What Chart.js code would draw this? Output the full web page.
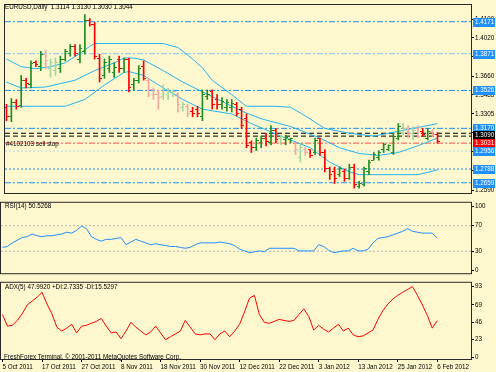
<!DOCTYPE html>
<html><head><meta charset="utf-8">
<script src="https://cdn.jsdelivr.net/npm/chart.js@4/dist/chart.umd.min.js"></script>
<style>
html,body{margin:0;padding:0;background:#FFF8CF;}
#wrap{position:relative;width:496px;height:372px;overflow:hidden;background:#FFF8CF;}
canvas{position:absolute;left:0;}
.t{position:absolute;font:6.3px "Liberation Sans",Arial,sans-serif;color:#000;white-space:pre;line-height:7px;}
</style></head><body>
<div id="wrap">
<canvas id="c1" width="496" height="198" style="top:0"></canvas>
<canvas id="c2" width="496" height="80" style="top:198px"></canvas>
<canvas id="c3" width="496" height="94" style="top:278px"></canvas>
<div class="t" style="left:5px;top:3px">EURUSD,Daily  1.3114 1.3130 1.3030 1.3044</div>
<div class="t" style="left:6px;top:140px">#4102103 sell stop</div>
<div class="t" style="left:5px;top:202px">RSI(14) 50.5268</div>
<div class="t" style="left:5px;top:283px">ADX(5) 47.9920 +DI:2.7335 -DI:15.5297</div>
<div class="t" style="left:4px;top:353px">FreshForex Terminal, © 2001-2011 MetaQuotes Software Corp.</div>
</div>
<script>
// ---------- data ----------
const dateLabels = ['5 Oct 2011','17 Oct 2011','27 Oct 2011','8 Nov 2011','18 Nov 2011','30 Nov 2011','12 Dec 2011','22 Dec 2011','3 Jan 2012','13 Jan 2012','25 Jan 2012','6 Feb 2012'];
const dateBars = [0,8,16,24,32,40,48,56,64,72,80,88];

const open  = [1.3368,1.3278,1.3414,1.3386,1.3622,1.3577,1.3785,1.3749,1.3866,1.3730,1.3712,1.3730,1.3821,1.3875,1.3939,1.3821,1.3893,1.4183,1.4147,1.3830,1.3667,1.3730,1.3694,1.3821,1.3730,1.3821,1.3577,1.3622,1.3749,1.3622,1.3531,1.3486,1.3468,1.3486,1.3504,1.3486,1.3368,1.3377,1.3332,1.3350,1.3278,1.3468,1.3513,1.3441,1.3396,1.3368,1.3368,1.3396,1.3350,1.3260,1.3034,1.2988,1.3034,1.3079,1.3034,1.3151,1.3079,1.3061,1.3061,1.3034,1.2898,1.2970,1.2970,1.2943,1.3079,1.2943,1.2789,1.2762,1.2735,1.2762,1.2699,1.2807,1.2626,1.2644,1.2762,1.2871,1.2898,1.2970,1.2970,1.2943,1.3079,1.3124,1.3169,1.3124,1.3169,1.3142,1.3079,1.3142,1.3114];
const high  = [1.3396,1.3450,1.3441,1.3667,1.3640,1.3803,1.3803,1.3893,1.3902,1.3821,1.3830,1.3848,1.3911,1.3957,1.3957,1.3957,1.4237,1.4201,1.4165,1.3866,1.3821,1.3848,1.3785,1.3848,1.3830,1.3830,1.3640,1.3758,1.3803,1.3640,1.3549,1.3531,1.3577,1.3549,1.3531,1.3504,1.3414,1.3396,1.3368,1.3377,1.3531,1.3531,1.3531,1.3486,1.3459,1.3441,1.3441,1.3414,1.3368,1.3305,1.3052,1.3079,1.3097,1.3124,1.3196,1.3169,1.3106,1.3106,1.3079,1.3034,1.3015,1.2988,1.2970,1.3079,1.3079,1.2970,1.2807,1.2807,1.2807,1.2789,1.2834,1.2834,1.2672,1.2807,1.2871,1.2943,1.2961,1.3034,1.3015,1.3124,1.3215,1.3215,1.3196,1.3187,1.3196,1.3169,1.3169,1.3160,1.3130];
const low   = [1.3242,1.3233,1.3350,1.3368,1.3549,1.3549,1.3749,1.3712,1.3730,1.3649,1.3667,1.3694,1.3803,1.3848,1.3848,1.3785,1.3866,1.4129,1.3821,1.3604,1.3640,1.3694,1.3649,1.3694,1.3694,1.3513,1.3531,1.3595,1.3622,1.3468,1.3441,1.3350,1.3441,1.3441,1.3468,1.3323,1.3332,1.3278,1.3278,1.3278,1.3242,1.3441,1.3350,1.3350,1.3350,1.3332,1.3323,1.3287,1.3169,1.2988,1.2943,1.2961,1.2988,1.3006,1.3015,1.3034,1.3015,1.3015,1.3034,1.2925,1.2853,1.2916,1.2898,1.2925,1.2916,1.2762,1.2690,1.2653,1.2717,1.2672,1.2690,1.2608,1.2608,1.2626,1.2735,1.2871,1.2871,1.2943,1.2961,1.2925,1.3061,1.3106,1.3079,1.3061,1.3079,1.3097,1.3061,1.3090,1.3030];
const close = [1.3278,1.3414,1.3377,1.3622,1.3595,1.3776,1.3767,1.3866,1.3803,1.3785,1.3785,1.3821,1.3893,1.3939,1.3875,1.3920,1.4183,1.4147,1.3848,1.3640,1.3785,1.3821,1.3739,1.3730,1.3821,1.3549,1.3622,1.3730,1.3640,1.3531,1.3486,1.3459,1.3531,1.3513,1.3513,1.3396,1.3396,1.3305,1.3305,1.3305,1.3486,1.3486,1.3396,1.3396,1.3423,1.3414,1.3405,1.3305,1.3196,1.3006,1.2988,1.3052,1.3079,1.3043,1.3151,1.3061,1.3097,1.3088,1.3070,1.2970,1.2988,1.2943,1.2916,1.3052,1.2943,1.2789,1.2735,1.2699,1.2789,1.2699,1.2807,1.2644,1.2653,1.2789,1.2853,1.2925,1.2943,1.3015,1.3006,1.3097,1.3187,1.3169,1.3124,1.3151,1.3097,1.3115,1.3142,1.3114,1.3044];
const paleBars = [8,9,10,29,30,31,32,33,34,35,36,37,56,59,60,61,81,82,83,84,87];

const upperX = [0,3,6,9,12,15,17,18,24,32,35,38,40,42,46,49,55,58,61,65,70,75,80,85,88];
const upper  = [1.3821,1.3749,1.3730,1.3749,1.3785,1.3875,1.3939,1.3966,1.3966,1.3966,1.3929,1.3821,1.3739,1.3622,1.3486,1.3377,1.3377,1.3368,1.3287,1.3169,1.3124,1.3097,1.3142,1.3187,1.3215];
const middleX = [0,3,8,14,18,22,24,26,28,32,36,40,44,48,52,58,64,68,72,76,80,84,88];
const middle  = [1.3604,1.3549,1.3558,1.3622,1.3712,1.3785,1.3830,1.3830,1.3812,1.3712,1.3604,1.3513,1.3423,1.3332,1.3260,1.3187,1.3079,1.2988,1.2934,1.2916,1.2943,1.3006,1.3079];
const lowerX = [0,6,12,16,20,24,25,28,32,36,40,46,50,56,62,66,70,72,80,84,88];
const lower  = [1.3377,1.3377,1.3377,1.3441,1.3577,1.3694,1.3703,1.3667,1.3549,1.3441,1.3350,1.3305,1.3215,1.3097,1.2988,1.2853,1.2762,1.2735,1.2735,1.2735,1.2780];

const levelValues = [1.4171,1.3871,1.3526,1.3170,1.3124,1.3097,1.3031,1.2956,1.2788,1.2659];
const priceTicks = [1.4190,1.4020,1.3840,1.3660,1.3485,1.3305,1.3130,1.2950,1.2770,1.2590];

const rsi = [36.1,37.5,43.1,47.2,51.4,52.8,56.9,54.2,52.8,54.2,54.2,55.6,56.9,59.7,58.3,62.5,69.4,65.3,52.8,48.6,45.8,48.6,48.6,50.0,51.4,40.3,44.4,48.6,45.8,43.1,40.3,41.7,40.3,38.9,37.5,37.5,36.1,34.7,36.1,40.3,43.1,43.1,43.1,43.1,44.4,43.1,41.7,38.9,33.3,30.6,27.8,29.2,30.6,29.2,34.7,34.7,34.7,34.7,34.7,34.7,30.6,30.6,30.6,30.6,40.3,37.5,31.9,27.8,29.2,30.6,30.6,34.7,30.6,30.6,33.3,43.1,50.0,51.4,52.8,55.6,58.3,61.1,65.3,61.1,59.7,58.3,58.3,58.3,50.5];
const rsiLevels = [30,70];
const rsiTicks = [0,30,70,100];

const adx = [56.1,40.8,42.0,48.4,57.3,68.8,73.9,79.0,85.4,70.1,57.3,39.5,34.4,38.2,43.3,31.9,40.8,42.0,44.6,47.1,51.0,40.8,31.9,33.1,24.2,34.4,45.9,39.5,34.4,29.3,33.1,40.8,31.9,22.9,26.8,30.6,34.4,48.4,39.5,30.6,29.3,30.6,30.6,22.9,30.6,34.4,26.8,34.4,43.3,59.9,77.7,81.5,56.1,45.9,44.6,47.1,49.7,48.4,47.1,48.4,56.1,63.7,53.5,35.7,42.0,36.9,33.1,38.2,43.3,34.4,38.2,29.3,26.8,28.0,31.9,35.7,49.7,61.2,70.1,76.4,81.5,85.4,89.2,93.0,81.5,68.8,54.8,38.2,48.0];
const adxTicks = [0,23,46,69,93];

// ---------- helpers ----------
const FONT = '"Liberation Sans", Arial, sans-serif';
const X_MIN = -0.304, X_MAX = 94.84;
const UP = '#1E8C1E', DN = '#FF0000', UP_P = '#A6D6A0', DN_P = '#F4A8A0';

function tickImg(color, left) {
  const c = document.createElement('canvas'); c.width = 5; c.height = 1;
  const g = c.getContext('2d'); g.fillStyle = color; g.fillRect(left ? 0 : 3, 0, 2, 1); return c;
}
const barColor = open.map((o, i) => {
  const up = close[i] >= o, p = paleBars.includes(i);
  return up ? (p ? UP_P : UP) : (p ? DN_P : DN);
});
const openImgs = barColor.map(c => tickImg(c, true));
const closeImgs = barColor.map(c => tickImg(c, false));

const framePlugin = {
  id: 'frame',
  afterDraw(ch) {
    const a = ch.chartArea, g = ch.ctx;
    g.save(); g.strokeStyle = '#2a2a2a'; g.lineWidth = 1;
    g.strokeRect(a.left - 0.5, a.top - 0.5, a.right - a.left + 1, a.bottom - a.top + 1);
    g.restore();
  }
};

function hline(v, color, dash, order) {
  return { type: 'line', data: [{ x: X_MIN, y: v }, { x: X_MAX, y: v }], borderColor: color, borderWidth: 1,
           borderDash: dash, pointRadius: 0, order: order || 20, parsing: false };
}
function yAxis(min, max, ticksArr, fmt) {
  return {
    position: 'right', min, max,
    afterFit(s) { s.width = 25; },
    afterBuildTicks(s) { s.ticks = ticksArr.map(v => ({ value: v })); },
    grid: { drawOnChartArea: false, drawTicks: true, tickLength: 3, color: '#000' },
    border: { display: true, color: '#2a2a2a' },
    ticks: { autoSkip: false, font: { size: 6.3, family: FONT }, color: '#000', padding: 1, callback: fmt }
  };
}
const hiddenX = { type: 'linear', min: X_MIN, max: X_MAX, display: false, offset: false };

// ---------- main price chart ----------
const DD = [6, 2, 2, 2];
const levelStyles = [
  ['#1E90FF', DD], ['#7EC8F8', DD], ['#1E90FF', DD], ['#1E90FF', DD],
  ['#000000', [5, 3]], ['#000000', [5, 3]], ['#FF5050', DD], ['#B0D8F0', [2, 2]],
  ['#1E90FF', [2, 2]], ['#1E90FF', DD]
];
const markers = [
  { v: 1.4171, t: '1.4171', bg: '#1E90FF' }, { v: 1.3871, t: '1.3871', bg: '#1E90FF' },
  { v: 1.3526, t: '1.3526', bg: '#1E90FF' }, { v: 1.3170, t: '1.3170', bg: '#1E90FF' },
  { v: 1.3105, t: '1.3090', bg: '#000000' }, { v: 1.3031, t: '1.3031', bg: '#FF0000' },
  { v: 1.2956, t: '1.2956', bg: '#1E90FF' }, { v: 1.2788, t: '1.2788', bg: '#1E90FF' },
  { v: 1.2659, t: '1.2659', bg: '#1E90FF' }
];
const markerPlugin = {
  id: 'markers',
  afterDraw(ch) {
    const g = ch.ctx, ys = ch.scales.y, a = ch.chartArea;
    g.save();
    g.font = '6.3px ' + FONT; g.textBaseline = 'middle';
    markers.forEach(m => {
      const py = Math.round(ys.getPixelForValue(m.v));
      g.fillStyle = m.bg; g.fillRect(a.right + 2, py - 4, 22, 9);
      g.fillStyle = '#fff'; g.fillText(m.t, a.right + 4, py + 0.5);
    });
    g.restore();
  }
};

const mainDatasets = [];
mainDatasets.push({ type: 'bar', data: open.map((o, i) => ({ x: i, y: [low[i], high[i]] })),
  backgroundColor: barColor, barThickness: 1, borderWidth: 0, grouped: false, order: 1 });
mainDatasets.push({ type: 'line', data: open.map((o, i) => ({ x: i, y: o })), showLine: false,
  pointStyle: openImgs, pointRadius: 3, order: 0 });
mainDatasets.push({ type: 'line', data: close.map((c, i) => ({ x: i, y: c })), showLine: false,
  pointStyle: closeImgs, pointRadius: 3, order: 0 });
[[upperX, upper], [middleX, middle], [lowerX, lower]].forEach(([xs, ys]) => {
  mainDatasets.push({ type: 'line', data: xs.map((x, k) => ({ x, y: ys[k] })), borderColor: '#22B4F0',
    borderWidth: 1, pointRadius: 0, tension: 0, order: 5 });
});
levelValues.forEach((v, k) => mainDatasets.push(hline(v, levelStyles[k][0], levelStyles[k][1], 20)));

new Chart(document.getElementById('c1'), {
  data: { datasets: mainDatasets },
  options: {
    responsive: false, animation: false, events: [],
    layout: { padding: { left: 1, top: 2, bottom: 1, right: 0 } },
    plugins: { legend: { display: false }, tooltip: { enabled: false } },
    scales: { x: hiddenX, y: yAxis(1.2563, 1.4328, priceTicks, v => v.toFixed(4)) }
  },
  plugins: [framePlugin, markerPlugin]
});

// ---------- RSI ----------
new Chart(document.getElementById('c2'), {
  type: 'line',
  data: { datasets: [
    { data: rsi.map((v, i) => ({ x: i, y: v })), borderColor: '#1E90FF', borderWidth: 1, pointRadius: 0, tension: 0, order: 1 },
    ...rsiLevels.map(v => hline(v, '#B8B8B8', [2, 2], 10))
  ] },
  options: {
    responsive: false, animation: false, events: [],
    layout: { padding: { left: 1, top: 1, bottom: 0, right: 0 } },
    plugins: { legend: { display: false }, tooltip: { enabled: false } },
    scales: { x: hiddenX, y: yAxis(-4.17, 105.56, rsiTicks, v => String(v)) }
  },
  plugins: [framePlugin]
});

// ---------- ADX ----------
new Chart(document.getElementById('c3'), {
  type: 'line',
  data: { datasets: [
    { data: adx.map((v, i) => ({ x: i, y: v })), borderColor: '#FF0000', borderWidth: 1, pointRadius: 0, tension: 0 }
  ] },
  options: {
    responsive: false, animation: false, events: [],
    layout: { padding: { left: 1, top: 2, bottom: 0, right: 0 } },
    plugins: { legend: { display: false }, tooltip: { enabled: false } },
    scales: {
      x: { type: 'linear', min: X_MIN, max: X_MAX, offset: false,
        afterFit(s) { s.height = 13; },
        afterBuildTicks(s) { s.ticks = dateBars.map(v => ({ value: v })); },
        grid: { drawOnChartArea: false, drawTicks: true, tickLength: 3, color: '#000' },
        border: { display: true, color: '#2a2a2a' },
        ticks: { autoSkip: false, maxRotation: 0, align: 'start', padding: 1, font: { size: 6.3, family: FONT }, color: '#000',
          callback: (v) => { const k = dateBars.indexOf(v); return k >= 0 ? dateLabels[k] : ''; } } },
      y: yAxis(-2.55, 98.1, adxTicks, v => String(v))
    }
  },
  plugins: [framePlugin]
});
</script>
</body></html>
